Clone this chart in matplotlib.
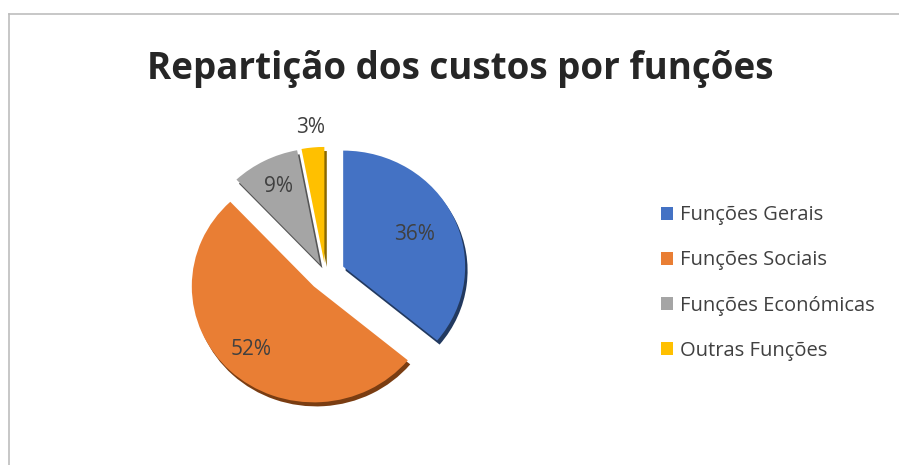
import matplotlib
matplotlib.use("Agg")
import matplotlib.pyplot as plt
from matplotlib.lines import Line2D
import numpy as np

categories = ["Funções Gerais", "Funções Sociais", "Funções Económicas", "Outras Funções"]
values = [36, 52, 9, 3]
title = "Repartição dos custos por funções"

colors = ["#4472C4", "#E97E34", "#A5A5A5", "#FFC000"]
shadow_colors = ["#22395F", "#7A3D12", "#555555", "#8A6800"]
explode = [0.16, 0.14, 0.1, 0.1]
pct_dist = [0.65, 0.75, 0.75, 1.17]

W, H = 899, 465
fig = plt.figure(figsize=(W / 100, H / 100), dpi=100)
fig.patch.set_facecolor("white")

cx, cy, rx, ry = 325.5, 274.5, 122, 116
lim = 1.6
ax = fig.add_axes([(cx - lim * rx) / W, (H - cy - lim * ry) / H,
                   2 * lim * rx / W, 2 * lim * ry / H])

ax.pie(values, colors=shadow_colors, startangle=90, counterclock=False,
       explode=explode, radius=1.0, center=(0.02, -0.035),
       wedgeprops=dict(linewidth=0), frame=True)
wedges, _ = ax.pie(values, colors=colors, startangle=90, counterclock=False,
                   explode=explode, radius=1.0, center=(0, 0),
                   wedgeprops=dict(linewidth=0), frame=True)
ax.set_aspect("auto")
ax.set_xlim(-lim, lim)
ax.set_ylim(-lim, lim)
ax.axis("off")

total = sum(values)
for w, v, d in zip(wedges, values, pct_dist):
    th = np.deg2rad((w.theta1 + w.theta2) / 2)
    x0, y0 = w.center
    ax.text(x0 + d * np.cos(th), y0 + d * np.sin(th), f"{round(100 * v / total)}%",
            ha="center", va="center", fontsize=15, color="#404040",
            family="Open Sans")

fig.text(460 / W, 1 - 69 / H, title, ha="center", va="center",
         fontsize=26.5, fontweight="bold", color="#262626", family="Open Sans")

fig.legend(wedges, categories, loc="center left",
           bbox_to_anchor=(643 / W, 1 - 283 / H), frameon=False,
           handlelength=0.6, handleheight=0.6, handletextpad=0.35,
           labelspacing=1.25, prop=dict(family="Open Sans", size=14.5),
           labelcolor="#404040")

border = "#BDBDBD"
fig.add_artist(Line2D([9 / W, 9 / W], [0, 1 - 14 / H], color=border, lw=1.2,
                      transform=fig.transFigure))
fig.add_artist(Line2D([9 / W, 1], [1 - 14 / H, 1 - 14 / H], color=border, lw=1.2,
                      transform=fig.transFigure))

fig.savefig("out.png", dpi=100, facecolor="white")
